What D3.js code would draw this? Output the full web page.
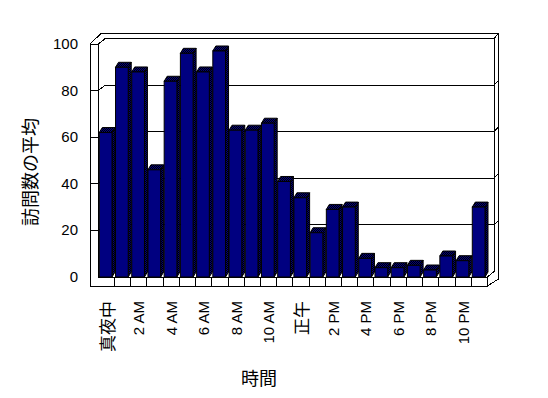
<!DOCTYPE html>
<html>
<head>
<meta charset="utf-8">
<script src="https://cdn.jsdelivr.net/npm/d3@7"></script>
<style>
  body { margin: 0; background: #fff; }
  text { font-family: "Liberation Sans", Arial, "Noto Sans CJK JP", sans-serif; fill: #000; }
  .jp { font-family: "Noto Sans CJK JP", sans-serif; }
</style>
</head>
<body>
<svg width="548" height="398"></svg>
<script>
const categories = ["真夜中", "1 AM", "2 AM", "3 AM", "4 AM", "5 AM", "6 AM", "7 AM", "8 AM", "9 AM", "10 AM", "11 AM",
    "正午", "1 PM", "2 PM", "3 PM", "4 PM", "5 PM", "6 PM", "7 PM", "8 PM", "9 PM", "10 PM", "11 PM"]
const visits = [62, 90, 88, 46, 84, 96, 88, 97, 63, 63, 66, 41, 34, 19, 29, 30, 8, 4, 4, 5, 3, 9, 7, 30]
const yTicks = [0, 20, 40, 60, 80, 100]
const yTitle = "訪問数の平均"
const xTitle = "時間"

const svg = d3.select("svg")

// front plane of the plot, and the depth offsets of the walls / bars
const X0 = 98.3, X1 = 487.5, FLOOR = 9
const wall = [7, -5.5]     // depth of the back wall face
const outer = [11, -10.5]  // back of the wall slab
const barDepth = [3, -5]

const x = d3.scaleBand().domain(categories).range([X0, X1]).padding(0)
const y = d3.scaleLinear().domain([0, 100]).range([277, 44])

// dithered navy for the shaded faces
const pat = svg.append("defs").append("pattern")
    .attr("id", "dither").attr("width", 2).attr("height", 2)
    .attr("patternUnits", "userSpaceOnUse")
pat.append("rect").attr("width", 2).attr("height", 2).attr("fill", "#000080")
pat.append("rect").attr("width", 1).attr("height", 1).attr("fill", "#000")
pat.append("rect").attr("x", 1).attr("y", 1).attr("width", 1).attr("height", 1).attr("fill", "#000")

const frame = svg.append("g")
    .attr("fill", "none").attr("stroke", "#000").attr("stroke-width", 1)
    .attr("shape-rendering", "crispEdges")

const L = 90   // outer left edge of the side wall
const yTop = y(100), base = y(0)
const bx0 = X0 + wall[0], by = (v) => y(v) + wall[1]
const bx1 = X1 + wall[0] - 0.5

// outline of the whole box
frame.append("path").attr("fill", "#fff").attr("d",
    `M${L},${yTop}L${L + outer[0]},${yTop + outer[1]}L${bx1 + 4.5},${yTop + outer[1]}` +
    `L${bx1 + 4.5},${base + 2}L${X1},${base + FLOOR}L${L},${base + FLOOR}Z`)
// back wall face
frame.append("path").attr("d",
    `M${X0},${yTop}L${bx0},${by(100)}L${bx1},${by(100)}L${bx1},${by(0)}L${X1},${base}`)
frame.append("line").attr("x1", bx1).attr("y1", by(100)).attr("x2", bx1 + 4.5).attr("y2", yTop + outer[1])
// side wall front face
frame.append("path").attr("d", `M${L},${yTop}L${X0},${yTop}L${X0},${base}`)
// floor front face
frame.append("path").attr("d", `M${X0},${base}L${X1},${base}L${X1},${base + FLOOR}`)

// gridlines: tick on the side wall, diagonal, then across the back wall
const grid = yTicks.filter(v => v > 0 && v < 100)
frame.selectAll(".grid").data(grid).enter().append("path")
    .attr("class", "grid")
    .attr("d", v => `M${L},${y(v)}L${X0},${y(v)}L${bx0},${by(v)}L${bx1},${by(v)}L${bx1 + 4.5},${by(v) - 4.5}`)

// category cells on the floor front
frame.selectAll(".cell").data(categories.slice(1)).enter().append("line")
    .attr("x1", d => x(d)).attr("x2", d => x(d))
    .attr("y1", base).attr("y2", base + FLOOR)

// bars
const bars = svg.append("g").attr("stroke", "#000").attr("stroke-width", 1)
    .attr("stroke-linejoin", "miter")
    .selectAll("g").data(visits).enter().append("g")

const xl = (d, i) => x(categories[i]) + 1
const xr = (d, i) => x(categories[i]) + x.bandwidth() - 2.5
const [dx, dy] = barDepth

bars.append("path").attr("fill", "url(#dither)")
    .attr("d", (d, i) => `M${xr(d, i)},${y(d)}L${xr(d, i) + dx},${y(d) + dy}L${xr(d, i) + dx},${base + dy}L${xr(d, i)},${base}Z`)
bars.append("path").attr("fill", "url(#dither)")
    .attr("d", (d, i) => `M${xl(d, i)},${y(d)}L${xl(d, i) + dx},${y(d) + dy}L${xr(d, i) + dx},${y(d) + dy}L${xr(d, i)},${y(d)}Z`)
bars.append("rect").attr("fill", "#000080")
    .attr("x", (d, i) => xl(d, i)).attr("y", d => y(d))
    .attr("width", (d, i) => xr(d, i) - xl(d, i)).attr("height", d => base - y(d))

// y tick labels
svg.append("g").selectAll("text").data(yTicks).enter().append("text")
    .attr("x", 78).attr("y", d => y(d) + 1)
    .attr("text-anchor", "end").attr("dominant-baseline", "middle")
    .attr("font-size", 15).text(d => d)

// x tick labels, every second hour
svg.append("g").selectAll("text").data(categories.filter((c, i) => i % 2 === 0)).enter().append("text")
    .attr("class", d => /[A-Z]/.test(d) ? null : "jp")
    .attr("transform", d => `translate(${x(d) + 8},301) rotate(-90)`)
    .attr("text-anchor", "end").attr("dominant-baseline", "central")
    .attr("font-size", d => /[A-Z]/.test(d) ? 15 : 17)
    .text(d => d)

svg.append("text").attr("class", "jp")
    .attr("transform", "translate(29,172) rotate(-90)")
    .attr("text-anchor", "middle").attr("dominant-baseline", "central")
    .attr("font-size", 18).text(yTitle)

svg.append("text").attr("class", "jp")
    .attr("x", 259).attr("y", 377)
    .attr("text-anchor", "middle").attr("dominant-baseline", "central")
    .attr("font-size", 18).text(xTitle)
</script>
</body>
</html>
